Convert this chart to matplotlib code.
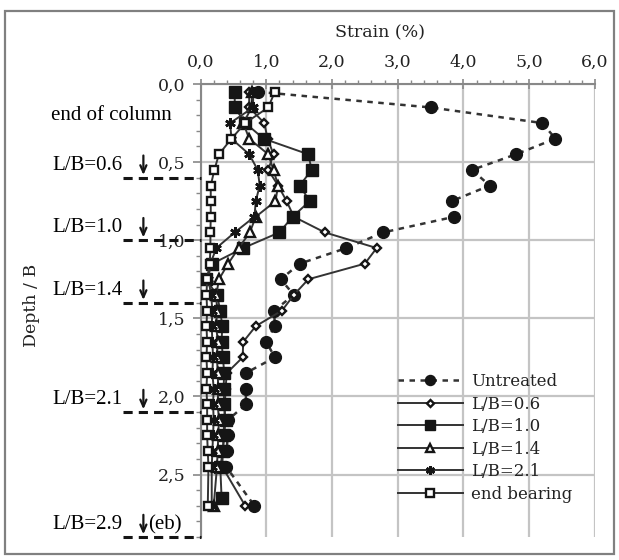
import matplotlib
matplotlib.use("Agg")
import matplotlib.pyplot as plt
from matplotlib.patches import Rectangle

# depth / B of the measuring points
depth = [0.05, 0.15, 0.25, 0.35, 0.45, 0.55, 0.65, 0.75, 0.85, 0.95, 1.05, 1.15, 1.25,
         1.35, 1.45, 1.55, 1.65, 1.75, 1.85, 1.95, 2.05, 2.15, 2.25, 2.35, 2.45, 2.70]
depth_lb10 = [0.05, 0.15, 0.25, 0.35, 0.45, 0.55, 0.65, 0.75, 0.85, 0.95, 1.05, 1.15, 1.25,
              1.35, 1.45, 1.55, 1.65, 1.75, 1.85, 1.95, 2.05, 2.15, 2.25, 2.35, 2.45, 2.65]

# strain (%)
untreated = [0.87, 3.50, 5.20, 5.40, 4.80, 4.13, 4.40, 3.82, 3.86, 2.78, 2.22, 1.51, 1.22,
             1.42, 1.12, 1.13, 1.00, 1.13, 0.69, 0.69, 0.69, 0.42, 0.41, 0.40, 0.39, 0.82]
lb06 = [0.74, 0.74, 0.97, 1.02, 1.11, 1.03, 1.18, 1.31, 1.42, 1.89, 2.68, 2.50, 1.64,
        1.42, 1.24, 0.84, 0.65, 0.64, 0.40, 0.38, 0.37, 0.36, 0.35, 0.34, 0.33, 0.68]
lb10 = [0.52, 0.52, 0.68, 0.96, 1.64, 1.69, 1.51, 1.66, 1.40, 1.20, 0.65, 0.18, 0.08,
        0.25, 0.30, 0.33, 0.32, 0.34, 0.36, 0.35, 0.36, 0.38, 0.36, 0.34, 0.30, 0.32]
lb14 = [0.78, 0.78, 0.65, 0.74, 1.03, 1.11, 1.18, 1.14, 0.84, 0.75, 0.58, 0.42, 0.28,
        0.24, 0.25, 0.24, 0.26, 0.25, 0.26, 0.27, 0.26, 0.28, 0.27, 0.26, 0.25, 0.20]
lb21 = [0.80, 0.80, 0.45, 0.47, 0.74, 0.87, 0.90, 0.84, 0.82, 0.52, 0.24, 0.15, 0.12,
        0.16, 0.18, 0.17, 0.18, 0.19, 0.18, 0.20, 0.19, 0.20, 0.19, 0.18, 0.17, 0.17]
end_bearing = [1.13, 1.03, 0.68, 0.47, 0.28, 0.21, 0.155, 0.155, 0.155, 0.15, 0.15, 0.14, 0.10,
               0.09, 0.10, 0.09, 0.10, 0.09, 0.10, 0.09, 0.10, 0.10, 0.10, 0.11, 0.12, 0.11]

# column tip depths marked on the left
tip_labels = ["L/B=0.6", "L/B=1.0", "L/B=1.4", "L/B=2.1", "L/B=2.9"]
tip_depths = [0.6, 1.0, 1.4, 2.1, 2.9]

x_ticks = [0, 1, 2, 3, 4, 5, 6]
y_ticks = [0.0, 0.5, 1.0, 1.5, 2.0, 2.5]

serif = "DejaVu Serif"
times = "Liberation Serif"
ink = "#151515"
line_c = "#333333"

fig = plt.figure(figsize=(6.19, 5.60), dpi=100)
ax = fig.add_axes([0.324, 0.041, 0.637, 0.809])

ax.plot(untreated, depth, ls=(0, (2.2, 2.2)), lw=1.8, color=line_c,
        marker="o", ms=8.5, mfc=ink, mec=ink, label="Untreated", zorder=3)
ax.plot(lb06, depth, lw=1.4, color=line_c, marker="D", ms=4.2, mfc="white",
        mec=ink, mew=1.7, label="L/B=0.6", zorder=4)
ax.plot(lb10, depth_lb10, lw=1.4, color=line_c, marker="s", ms=8, mfc=ink,
        mec=ink, label="L/B=1.0", zorder=4)
ax.plot(lb14, depth, lw=1.4, color=line_c, marker="^", ms=6.5, mfc="white",
        mec=ink, mew=1.7, label="L/B=1.4", zorder=4)
ax.plot(lb21, depth, lw=1.4, color=line_c, marker=(6, 2, 0), ms=7.5,
        mec=ink, mew=1.9, label="L/B=2.1", zorder=4)
ax.plot(end_bearing, depth, lw=1.4, color=line_c, marker="s", ms=6, mfc="white",
        mec=ink, mew=1.7, label="end bearing", zorder=5)

ax.set_xlim(0, 6)
ax.set_ylim(2.9, 0)
ax.xaxis.tick_top()
ax.set_xticks(x_ticks)
ax.set_xticklabels([f"{v:.1f}".replace(".", ",") for v in x_ticks])
ax.set_xticks([v / 5 for v in range(31)], minor=True)
ax.set_yticks(y_ticks)
ax.set_yticklabels([f"{v:.1f}".replace(".", ",") for v in y_ticks])
ax.set_yticks([v / 10 for v in range(30)], minor=True)

for lab in ax.get_xticklabels() + ax.get_yticklabels():
    lab.set_fontfamily(serif)
    lab.set_fontsize(12.5)
    lab.set_color("#222222")

ax.tick_params(axis="x", which="major", direction="inout", length=7, width=1.2,
               color="#888888", pad=6)
ax.tick_params(axis="x", which="minor", direction="out", length=3, width=1.0,
               color="#888888")
ax.tick_params(axis="y", which="major", direction="out", length=6, width=1.2,
               color="#888888", pad=5)
ax.tick_params(axis="y", which="minor", direction="out", length=3.5, width=1.0,
               color="#888888")

ax.spines["bottom"].set_visible(False)
ax.spines["right"].set_visible(False)
for s in ["top", "left"]:
    ax.spines[s].set_color("#888888")
    ax.spines[s].set_linewidth(1.5)

ax.grid(True, which="major", color="#c4c4c4", lw=1.6)
ax.set_axisbelow(True)

ax.text(0.455, 1.095, "Strain (%)", transform=ax.transAxes, ha="center", va="bottom",
        fontsize=12.5, family=serif, color="#222222")
fig.text(32 / 619, 1 - 305 / 560, "Depth / B", rotation=90, ha="center", va="center",
         fontsize=12.5, family=serif, color="#222222")

# column tip markers on the left
ax.text(-2.28, 0.2, "end of column", fontsize=15, family=times, va="center",
        clip_on=False)
for lab, d in zip(tip_labels, tip_depths):
    ax.plot([-1.18, 0], [d, d], ls=(0, (3, 2)), lw=2.2, color=ink, clip_on=False, zorder=6)
    ax.text(-2.26, d - 0.08, lab, fontsize=15, family=times, va="center", clip_on=False)
    ax.annotate("", xy=(-0.87, d), xytext=(-0.87, d - 0.16),
                arrowprops=dict(arrowstyle="->,head_length=0.5,head_width=0.22",
                                lw=1.6, color=ink),
                annotation_clip=False)
ax.text(-0.8, 2.9 - 0.08, "(eb)", fontsize=15, family=times, va="center", clip_on=False)

leg = ax.legend(loc="upper left", bbox_to_anchor=(0.5, 0.362), frameon=False,
                borderpad=0, borderaxespad=0, handlelength=3.9, handletextpad=0.5,
                labelspacing=0.33, markerscale=0.85,
                prop={"family": serif, "size": 12})
for t in leg.get_texts():
    t.set_color("#222222")

fig.add_artist(Rectangle((5 / 619, 1 - 554 / 560), 609 / 619, 543 / 560,
                         transform=fig.transFigure, fill=False, edgecolor="#808080",
                         lw=1.6))

fig.savefig("out.png", dpi=100)
